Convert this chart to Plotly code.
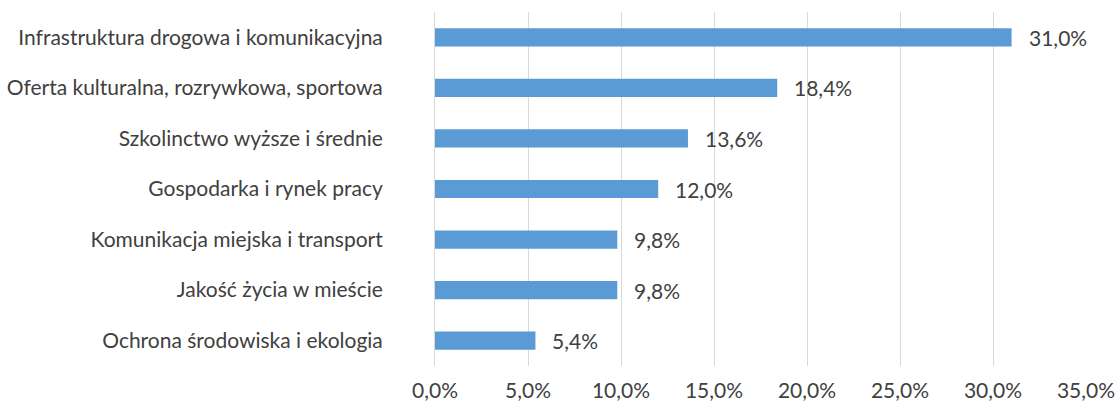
import plotly.graph_objects as go

categories = [
    "Infrastruktura drogowa i komunikacyjna",
    "Oferta kulturalna, rozrywkowa, sportowa",
    "Szkolinctwo wyższe i średnie",
    "Gospodarka i rynek pracy",
    "Komunikacja miejska i transport",
    "Jakość życia w mieście",
    "Ochrona środowiska i ekologia",
]
values = [31.0, 18.4, 13.6, 12.0, 9.8, 9.8, 5.4]
value_labels = ["31,0%", "18,4%", "13,6%", "12,0%", "9,8%", "9,8%", "5,4%"]
tick_vals = [0, 5, 10, 15, 20, 25, 30, 35]
tick_text = ["0,0%", "5,0%", "10,0%", "15,0%", "20,0%", "25,0%", "30,0%", "35,0%"]

FONT = "Lato"
TXT = "#404040"
FS = 21

fig = go.Figure()
fig.add_trace(go.Bar(
    x=values, y=categories, orientation="h",
    marker=dict(color="#5B9BD5", line=dict(width=0)),
    width=0.36,
    hoverinfo="skip",
))
for v, c, t in zip(values, categories, value_labels):
    fig.add_annotation(x=v, y=c, text=t, showarrow=False, xanchor="left",
                       xshift=15, font=dict(family=FONT, size=FS, color=TXT))

fig.update_layout(
    width=1119, height=407,
    margin=dict(l=435, r=33, t=12, b=41),
    paper_bgcolor="white", plot_bgcolor="white",
    showlegend=False,
    font=dict(family=FONT, size=FS, color=TXT),
    xaxis=dict(
        range=[0, 35], tickvals=tick_vals, ticktext=tick_text,
        showgrid=True, gridcolor="#D9D9D9", gridwidth=1,
        zeroline=False, showline=False,
        ticks="outside", ticklen=6, tickcolor="rgba(0,0,0,0)",
        tickfont=dict(family=FONT, size=FS, color=TXT),
        automargin=False, fixedrange=True,
    ),
    yaxis=dict(
        autorange="reversed", showgrid=False, zeroline=False,
        showline=True, linecolor="#D9D9D9", linewidth=1,
        ticks="", ticklabelstandoff=47,
        tickfont=dict(family=FONT, size=FS, color=TXT),
        automargin=False, fixedrange=True,
    ),
)
fig.write_html("out.html", config={"displayModeBar": False},
               post_script="document.body.style.margin='0';")
